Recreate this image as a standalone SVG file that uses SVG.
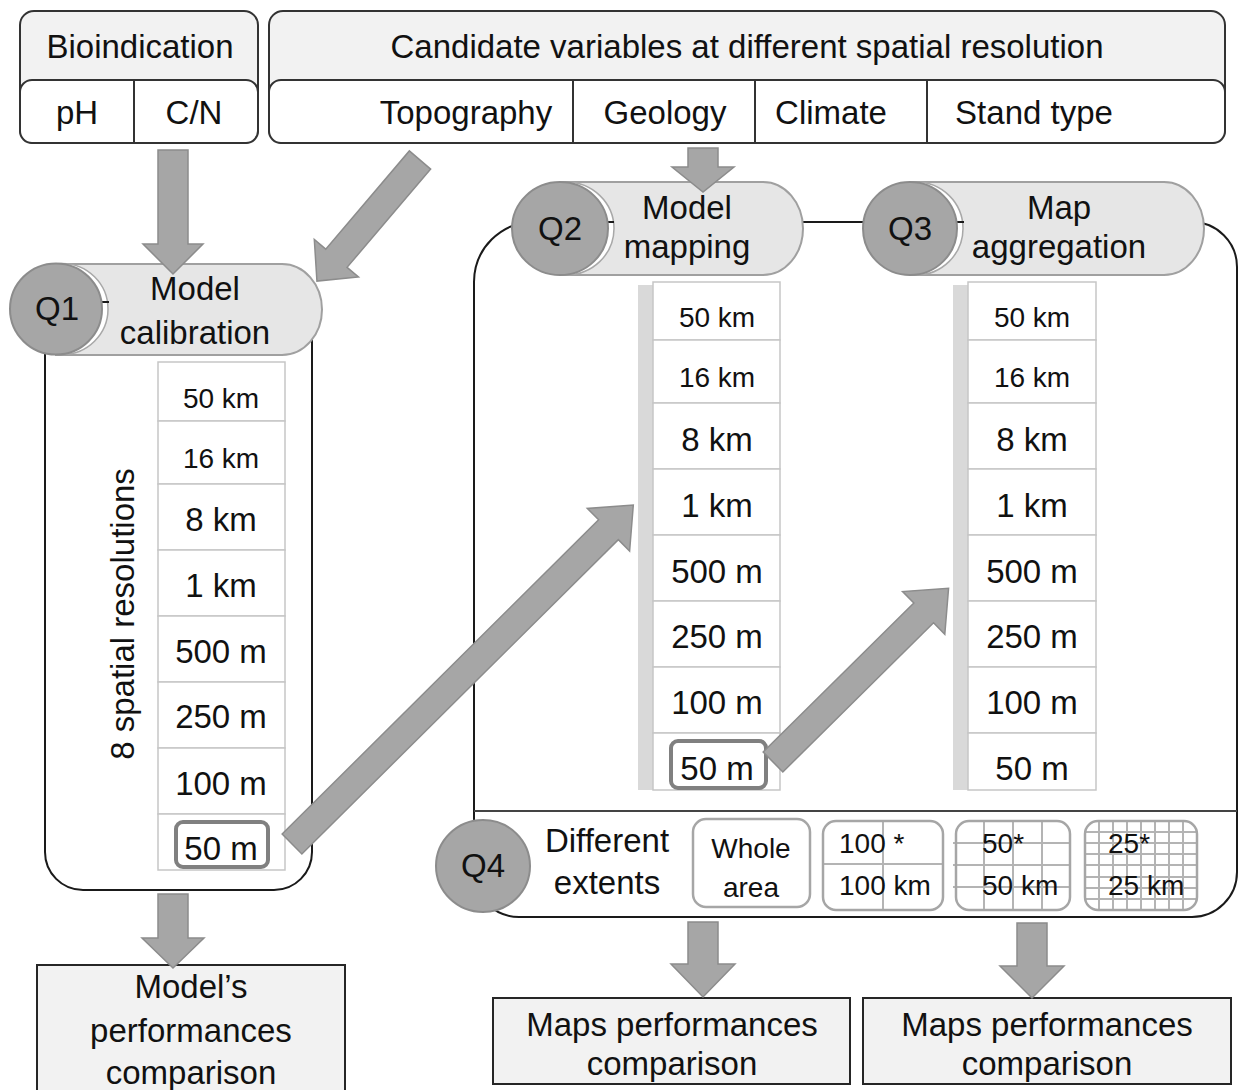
<svg xmlns="http://www.w3.org/2000/svg" width="1240" height="1090" viewBox="0 0 1240 1090">
<style>
text{font-family:"Liberation Sans",Arial,sans-serif;fill:#111;text-anchor:middle}
.t32{font-size:33px}
.t29{font-size:28px}
.ts{font-size:28px;text-anchor:start}
.box{stroke:#333;stroke-width:2}
.hdr{fill:#f2f2f2}
.cell{fill:#fff;stroke:#c6c6c6;stroke-width:1.5}
.strip{fill:#d9d9d9}
.cont{fill:none;stroke:#1a1a1a;stroke-width:2}
.body{fill:#e6e6e6;stroke:#a0a0a0;stroke-width:2}
.face{fill:#a6a6a6;stroke:#8c8c8c;stroke-width:2}
.crest{fill:#fff;stroke:#a8a8a8;stroke-width:1.5}
.arrow{fill:#a6a6a6;stroke:#8c8c8c;stroke-width:1.5}
.hl{fill:none;stroke:#808080;stroke-width:4}
.extf{fill:#fff;stroke:none}
.ext{fill:none;stroke:#a6a6a6;stroke-width:2.5}
.grid{stroke:#b4b4b4;stroke-width:2;fill:none}
.out{fill:#f2f2f2;stroke:#262626;stroke-width:2}
</style>

<!-- containers -->
<g id="q1-container">
<path class="cont" d="M45,342 A40,40 0 0 1 85,302 H272 A40,40 0 0 1 312,342 V852 A38,38 0 0 1 274,890 H83 A38,38 0 0 1 45,852 Z"/>
</g>
<g id="q23-container">
<path class="cont" d="M474,282 A60,60 0 0 1 534,222 H1192 A45,45 0 0 1 1237,267 V872 A45,45 0 0 1 1192,917 H519 A45,45 0 0 1 474,872 Z"/>
<line x1="474" y1="811" x2="1237" y2="811" stroke="#444" stroke-width="2"/>
</g>

<!-- Bioindication -->
<g id="bioindication">
<rect class="box hdr" x="20" y="11" width="238" height="132" rx="14"/>
<rect class="box" fill="#fff" x="20" y="80" width="238" height="63" rx="12"/>
<line class="box" x1="134" y1="80" x2="134" y2="143"/>
<text class="t32" x="140" y="58">Bioindication</text>
<text class="t32" x="77" y="124">pH</text>
<text class="t32" x="194" y="124">C/N</text>
</g>

<!-- Candidate variables -->
<g id="candidates">
<rect class="box hdr" x="269" y="11" width="956" height="132" rx="14"/>
<rect class="box" fill="#fff" x="269" y="80" width="956" height="63" rx="12"/>
<line class="box" x1="573" y1="80" x2="573" y2="143"/>
<line class="box" x1="755" y1="80" x2="755" y2="143"/>
<line class="box" x1="927" y1="80" x2="927" y2="143"/>
<text class="t32" x="747" y="58">Candidate variables at different spatial resolution</text>
<text class="t32" x="466" y="124">Topography</text>
<text class="t32" x="665" y="124">Geology</text>
<text class="t32" x="831" y="124">Climate</text>
<text class="t32" x="1034" y="124">Stand type</text>
</g>

<!-- Q1 cylinder -->
<g id="q1">
<path class="body" d="M56,264 H282 A40,45.5 0 0 1 282,355 H56 Z"/>
<ellipse class="crest" cx="62" cy="309" rx="46" ry="45.5"/>
<line x1="102" y1="302" x2="109" y2="302" stroke="#1a1a1a" stroke-width="2"/>
<ellipse class="face" cx="56" cy="309" rx="46" ry="45.5"/>
<text class="t32" x="57" y="320">Q1</text>
<text class="t32" x="195" y="300">Model</text>
<text class="t32" x="195" y="344">calibration</text>
</g>

<!-- Q2 cylinder -->
<g id="q2">
<path class="body" d="M560,182 H763 A40,46.5 0 0 1 763,275 H560 Z"/>
<ellipse class="crest" cx="566" cy="228.5" rx="48" ry="46.5"/>
<line x1="607" y1="222" x2="614" y2="222" stroke="#1a1a1a" stroke-width="2"/>
<ellipse class="face" cx="560" cy="228.5" rx="48" ry="46.5"/>
<text class="t32" x="560" y="240">Q2</text>
<text class="t32" x="687" y="219">Model</text>
<text class="t32" x="687" y="258">mapping</text>
</g>

<!-- Q3 cylinder -->
<g id="q3">
<path class="body" d="M910,182 H1164 A40,46.5 0 0 1 1164,275 H910 Z"/>
<ellipse class="crest" cx="916" cy="228.5" rx="47" ry="46.5"/>
<line x1="957" y1="222" x2="964" y2="222" stroke="#1a1a1a" stroke-width="2"/>
<ellipse class="face" cx="910" cy="228.5" rx="47" ry="46.5"/>
<text class="t32" x="910" y="240">Q3</text>
<text class="t32" x="1059" y="219">Map</text>
<text class="t32" x="1059" y="258">aggregation</text>
</g>

<!-- Q1 resolutions column -->
<g id="q1-resolutions">
<rect class="cell" x="158" y="362" width="127" height="59"/>
<rect class="cell" x="158" y="421" width="127" height="63"/>
<rect class="cell" x="158" y="484" width="127" height="66"/>
<rect class="cell" x="158" y="550" width="127" height="66"/>
<rect class="cell" x="158" y="616" width="127" height="66"/>
<rect class="cell" x="158" y="682" width="127" height="66"/>
<rect class="cell" x="158" y="748" width="127" height="66"/>
<rect class="cell" x="158" y="814" width="127" height="56"/>
<text class="t29" x="221" y="408">50 km</text>
<text class="t29" x="221" y="468">16 km</text>
<text class="t32" x="221" y="531">8 km</text>
<text class="t32" x="221" y="597">1 km</text>
<text class="t32" x="221" y="663">500 m</text>
<text class="t32" x="221" y="728">250 m</text>
<text class="t32" x="221" y="795">100 m</text>
<text class="t32" x="221" y="860">50 m</text>
<rect class="hl" x="176" y="822" width="92" height="45" rx="7"/>
<text class="t32" transform="translate(134,614) rotate(-90)">8 spatial  resolutions</text>
</g>

<!-- Q2 resolutions column -->
<g id="q2-resolutions">
<rect class="strip" x="638" y="285" width="15" height="505"/>
<rect class="cell" x="653" y="282" width="127" height="58"/>
<rect class="cell" x="653" y="340" width="127" height="63"/>
<rect class="cell" x="653" y="403" width="127" height="66"/>
<rect class="cell" x="653" y="469" width="127" height="66"/>
<rect class="cell" x="653" y="535" width="127" height="66"/>
<rect class="cell" x="653" y="601" width="127" height="66"/>
<rect class="cell" x="653" y="667" width="127" height="66"/>
<rect class="cell" x="653" y="733" width="127" height="57"/>
<text class="t29" x="717" y="327">50 km</text>
<text class="t29" x="717" y="387">16 km</text>
<text class="t32" x="717" y="451">8 km</text>
<text class="t32" x="717" y="517">1 km</text>
<text class="t32" x="717" y="583">500 m</text>
<text class="t32" x="717" y="648">250 m</text>
<text class="t32" x="717" y="714">100 m</text>
<text class="t32" x="717" y="780">50 m</text>
<rect class="hl" x="671" y="741" width="95" height="47" rx="7"/>
</g>

<!-- Q3 resolutions column -->
<g id="q3-resolutions">
<rect class="strip" x="953" y="285" width="15" height="505"/>
<rect class="cell" x="968" y="282" width="128" height="58"/>
<rect class="cell" x="968" y="340" width="128" height="63"/>
<rect class="cell" x="968" y="403" width="128" height="66"/>
<rect class="cell" x="968" y="469" width="128" height="66"/>
<rect class="cell" x="968" y="535" width="128" height="66"/>
<rect class="cell" x="968" y="601" width="128" height="66"/>
<rect class="cell" x="968" y="667" width="128" height="66"/>
<rect class="cell" x="968" y="733" width="128" height="57"/>
<text class="t29" x="1032" y="327">50 km</text>
<text class="t29" x="1032" y="387">16 km</text>
<text class="t32" x="1032" y="451">8 km</text>
<text class="t32" x="1032" y="517">1 km</text>
<text class="t32" x="1032" y="583">500 m</text>
<text class="t32" x="1032" y="648">250 m</text>
<text class="t32" x="1032" y="714">100 m</text>
<text class="t32" x="1032" y="780">50 m</text>
</g>

<!-- Q4 extents -->
<g id="q4">
<ellipse class="face" cx="483" cy="866" rx="47" ry="46"/>
<text class="t32" x="483" y="877">Q4</text>
<text class="t32" x="607" y="852">Different</text>
<text class="t32" x="607" y="894">extents</text>
</g>
<g id="extent-whole">
<rect class="extf" x="693" y="819" width="117" height="88" rx="13"/>
<rect class="ext" x="693" y="819" width="117" height="88" rx="13"/>
<text class="t29" x="751" y="858">Whole</text>
<text class="t29" x="751" y="897">area</text>
</g>
<g id="extent-100">
<rect class="extf" x="823" y="821" width="120" height="89" rx="13"/>
<path class="grid" d="M883,821 V910 M823,864 H943"/>
<rect class="ext" x="823" y="821" width="120" height="89" rx="13"/>
<text class="ts" x="839" y="853">100 *</text>
<text class="ts" x="839" y="895">100 km</text>
</g>
<g id="extent-50">
<rect class="extf" x="956" y="821" width="114" height="89" rx="13"/>
<path class="grid" d="M984,821 V910 M1013,821 V910 M1042,821 V910 M953,843 H1070 M953,865 H1070 M953,887 H1070"/>
<rect class="ext" x="956" y="821" width="114" height="89" rx="13"/>
<text class="ts" x="982" y="853">50*</text>
<text class="ts" x="982" y="895">50 km</text>
</g>
<g id="extent-25">
<rect class="extf" x="1085" y="821" width="112" height="89" rx="13"/>
<path class="grid" d="M1099,821 V910 M1113,821 V910 M1127,821 V910 M1141,821 V910 M1155,821 V910 M1169,821 V910 M1183,821 V910 M1085,832 H1197 M1085,843 H1197 M1085,854 H1197 M1085,865 H1197 M1085,877 H1197 M1085,888 H1197 M1085,899 H1197"/>
<rect class="ext" x="1085" y="821" width="112" height="89" rx="13"/>
<text class="ts" x="1108" y="853">25*</text>
<text class="ts" x="1108" y="895">25 km</text>
</g>

<!-- outputs -->
<g id="out-model">
<rect class="out" x="37" y="965" width="308" height="140"/>
<text class="t32" x="191" y="998">Model’s</text>
<text class="t32" x="191" y="1042">performances</text>
<text class="t32" x="191" y="1084">comparison</text>
</g>
<g id="out-maps1">
<rect class="out" x="493" y="998" width="357" height="86"/>
<text class="t32" x="672" y="1036">Maps performances</text>
<text class="t32" x="672" y="1075">comparison</text>
</g>
<g id="out-maps2">
<rect class="out" x="863" y="998" width="368" height="86"/>
<text class="t32" x="1047" y="1036">Maps performances</text>
<text class="t32" x="1047" y="1075">comparison</text>
</g>

<!-- connectors -->
<g id="connectors">
<path class="arrow" transform="translate(173,150) rotate(90)" d="M0,-15 H94 V-30 L124,0 L94,30 V15 H0 Z"/>
<path class="arrow" transform="translate(420,160) rotate(130.4)" d="M0,-14 H129 V-29 L159,0 L129,29 V14 H0 Z"/>
<path class="arrow" transform="translate(703,148) rotate(90)" d="M0,-15 H19 V-31 L44,0 L19,31 V15 H0 Z"/>
<path class="arrow" transform="translate(292,844) rotate(-44.8)" d="M0,-14 H446 V-30 L481,0 L446,30 V14 H0 Z"/>
<path class="arrow" transform="translate(773,762) rotate(-44.7)" d="M0,-14 H212 V-30 L247,0 L212,30 V14 H0 Z"/>
<path class="arrow" transform="translate(173,894) rotate(90)" d="M0,-15 H44 V-31 L74,0 L44,31 V15 H0 Z"/>
<path class="arrow" transform="translate(703,922) rotate(90)" d="M0,-15 H42 V-32 L75,0 L42,32 V15 H0 Z"/>
<path class="arrow" transform="translate(1032,923) rotate(90)" d="M0,-15 H43 V-32 L75,0 L43,32 V15 H0 Z"/>
</g>
</svg>
